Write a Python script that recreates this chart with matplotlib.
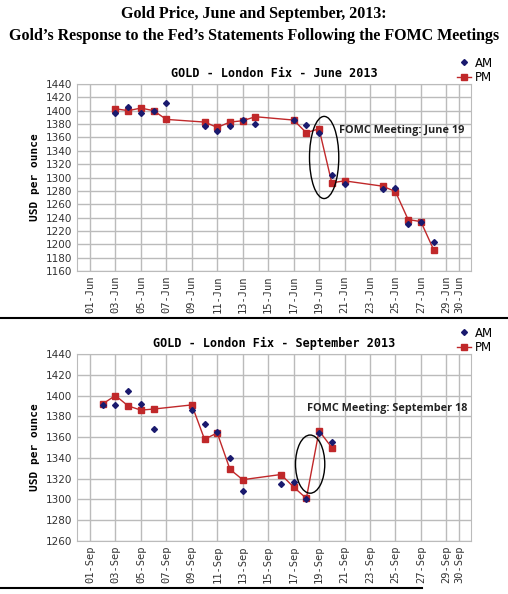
import matplotlib
matplotlib.use("Agg")
import matplotlib.pyplot as plt
import matplotlib.dates as mdates
from matplotlib.patches import Ellipse
import numpy as np
import datetime as dt

june_days = [3,4,5,6,7,10,11,12,13,14,17,18,19,20,21,24,25,26,27,28]
june_am = [1397,1406,1397,1400,1411,1377,1370,1377,1386,1380,1386,1379,1367,1304,1291,1283,1284,1230,1233,1204]
june_pm = [1403,1400,1404,1400,1387,1383,1375,1383,1385,1391,1386,1367,1373,1292,1295,1287,1279,1237,1234,1192]
sep_days = [2,3,4,5,6,9,10,11,12,13,16,17,18,19,20]
sep_am = [1391,1391,1404,1392,1368,1386,1373,1365,1340,1308,1315,1317,1300,1364,1355]
sep_pm = [1392,1400,1390,1386,1387,1391,1358,1364,1329,1319,1324,1312,1301,1366,1350]

W, H = 508, 594
fig = plt.figure(figsize=(W/100, H/100), dpi=100)
fig.text(0.5, 1-14/H, "Gold Price, June and September, 2013:", ha='center', va='center',
         family='Liberation Serif', weight='bold', fontsize=11.5)
fig.text(0.5, 1-36/H, "Gold\u2019s Response to the Fed\u2019s Statements Following the FOMC Meetings",
         ha='center', va='center', family='Liberation Serif', weight='bold', fontsize=11.5)

def panel(top, bottom, month, mname, days, am, pm, ylim, title, ell, note):
    ax = fig.add_axes([77/W, 1-bottom/H, 394/W, (bottom-top)/H])
    d = [dt.date(2013, month, x) for x in days]
    ax.plot(d, pm, color='#c0282a', marker='s', ms=5, lw=1, label='PM', zorder=3)
    ax.plot(d, am, ls='none', marker='D', ms=3, color='#1a1a6e', label='AM', zorder=4)
    ticks = [dt.date(2013, month, x) for x in list(range(1, 30, 2)) + [30]]
    ax.set_xticks(ticks)
    ax.set_xticklabels([f"{t.day:02d}-{mname}" for t in ticks], rotation=90,
                       family='DejaVu Sans Mono', fontsize=7.5, color='#333333')
    ax.set_xlim(mdates.date2num(dt.date(2013, month, 1)) - 1.02, mdates.date2num(dt.date(2013, month, 30)) + 0.94)
    ax.set_ylim(*ylim)
    ax.set_yticks(np.arange(ylim[0], ylim[1]+1, 20))
    ax.tick_params(labelsize=7.5, length=0, colors='#333333')
    ax.grid(True, color='#bbbbbb', lw=1)
    for s in ax.spines.values():
        s.set_color('#bbbbbb')
    ax.set_ylabel("USD per ounce", family='DejaVu Sans Mono', weight='bold', fontsize=8)
    ax.set_title(title, family='DejaVu Sans Mono', weight='bold', fontsize=8.5, pad=5)
    cx, cy, w, h = ell
    ax.add_patch(Ellipse((mdates.date2num(dt.date(2013, month, 1)) + cx - 1, cy), w, h,
                         fill=False, ec='black', lw=1, zorder=5))
    ax.text(note[0], note[1], note[2], transform=ax.transAxes, fontsize=7.8, weight='bold',
            family='Open Sans', color='#222222', va='center')
    h_, l_ = ax.get_legend_handles_labels()
    ax.legend(h_[::-1], l_[::-1], loc='lower left', bbox_to_anchor=(0.95, 0.97), frameon=False,
              fontsize=8.5, handlelength=1.2, borderpad=0, labelspacing=0.1, handletextpad=0.3)
    return ax

panel(84, 271, 6, 'Jun', june_days, june_am, june_pm, (1160, 1440),
      "GOLD - London Fix - June 2013", (19.4, 1330, 2.3, 123), (0.665, 0.75, "FOMC Meeting: June 19"))
panel(354, 541, 9, 'Sep', sep_days, sep_am, sep_pm, (1260, 1440),
      "GOLD - London Fix - September 2013", (18.3, 1334, 2.3, 56), (0.585, 0.71, "FOMC Meeting: September 18"))

fig.add_artist(plt.Line2D([0, 1], [1-318/H, 1-318/H], color='black', lw=1.5))
fig.add_artist(plt.Line2D([0, 0.83], [1-588/H, 1-588/H], color='black', lw=1.5))
fig.savefig("out.png", dpi=100)
